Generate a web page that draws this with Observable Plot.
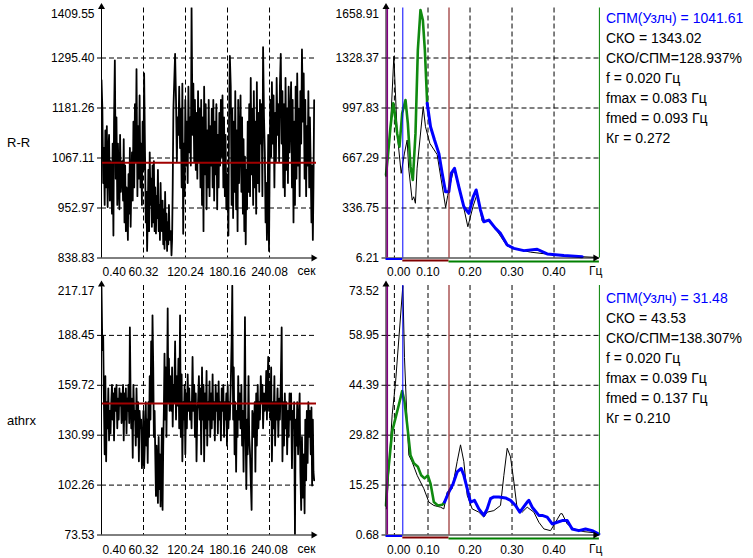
<!DOCTYPE html>
<html>
<head>
<meta charset="utf-8">
<script src="https://cdn.jsdelivr.net/npm/d3@7"></script>
<script src="https://cdn.jsdelivr.net/npm/@observablehq/plot@0.6"></script>
<style>
  body { margin: 0; background: #fff; }
  #chart { position: relative; width: 753px; height: 558px; overflow: hidden; background: #fff;
           font-family: "Liberation Sans", Arial, sans-serif; }
  #chart svg { position: absolute; }
  .stats { position: absolute; left: 606px; font-size: 14px; line-height: 20px; white-space: nowrap; color: #000; }
  .stats .head { color: #0000ff; }
  .rowlabel { position: absolute; left: 7px; font-size: 13px; line-height: 16px; color: #000; }
</style>
</head>
<body>
<div id="chart"></div>
<script>
// ---- time axis (seconds) ----
const timeStart = 0.40;
const timeEnd = 307.1;
const timeTicks = [0.40, 60.32, 120.24, 180.16, 240.08];

// ---- R-R intervals, ms ----
const rrTicks = [838.83, 952.97, 1067.11, 1181.26, 1295.40, 1409.55];
const rrMean = 1056;
const rrValues = [
  1245,1180,1010,1090,960,1130,1000,1140,955,1080,1120,970,1060,1010,
  940,1100,890,1150,1290,1020,1160,960,1100,1010,950,1120,990,1040,
  1060,970,1110,920,1050,900,1000,960,880,1030,940,1090,910,1000,
  1080,970,1150,1000,1190,1060,1270,980,1140,1020,1210,1000,1100,960,
  1150,1040,1260,1080,920,990,855,930,1040,900,1080,960,1020,910,
  1050,920,1060,900,1000,895,980,930,1040,900,960,880,1010,920,
  900,970,870,950,860,990,880,940,855,920,870,960,880,900,
  900,845,880,1000,1180,1240,1305,1200,1060,1160,1120,1230,1090,
  1180,1000,1237,894,1100,980,1200,1050,1150,1010,1230,1080,1160,
  1050,1410,1120,1237,1060,1200,1040,1170,1020,1220,1060,1180,1000,
  1200,960,1160,900,1230,1030,1190,950,1130,1000,1200,980,1140,
  1050,1180,1000,1200,970,1150,1030,1190,950,1120,1000,1170,1050,
  1200,1070,1210,1000,1160,980,1120,950,1030,1000,890,1150,1300,
  1230,960,1180,930,1150,990,1220,950,1130,900,1200,1010,1100,
  1210,990,1160,940,1110,900,1070,870,1040,950,1150,990,1190,
  980,1250,1030,1180,960,1220,1000,1150,940,1240,1010,1170,990,
  1200,1100,1190,980,1320,1160,1080,920,1010,880,950,1120,855,
  1030,1200,1070,1240,1100,1210,1000,1170,1060,1250,1120,1190,1060,
  1230,1305,1100,1220,1000,1190,980,1250,1040,1180,1010,1230,1080,
  1160,1240,1000,1200,920,1150,960,1230,1020,1260,1050,1180,980,
  1220,1100,1315,1150,1260,1020,1200,980,1140,1050,1220,1000,1160,
  1040,920,1050,880,1000,1199
];

// ---- athrx, one value per beat ----
const athrxTicks = [73.53, 102.26, 130.99, 159.72, 188.45, 217.17];
const athrxMean = 149.2;
const athrxValues = [
  216,180,188,150,120,165,116,150,135,158,128,145,132,150,
  160,140,155,128,158,145,160,135,152,140,158,148,155,138,
  150,160,128,155,140,158,132,152,145,160,138,193,150,135,
  152,118,160,140,145,125,158,130,150,116,145,135,140,112,
  120,145,112,130,150,125,140,115,150,130,165,140,185,150,
  200,170,130,145,120,96,125,110,92,130,100,120,90,115,
  135,88,125,145,178,140,170,130,160,204,150,175,145,165,
  160,145,170,136,160,150,185,140,165,148,175,135,200,
  130,166,116,150,140,160,120,155,135,166,145,158,140,
  150,135,176,145,160,130,155,116,145,150,165,140,158,
  120,170,140,160,116,155,135,168,125,150,140,162,130,
  155,135,166,140,150,128,160,145,155,132,162,140,150,
  128,158,145,160,130,150,140,155,125,160,135,150,140,
  160,185,217,140,170,120,150,110,145,130,165,140,155,
  135,160,125,145,110,150,199,130,100,140,120,165,130,
  120,105,88,145,140,130,150,110,155,125,160,135,150,
  140,165,150,160,135,155,145,150,168,140,160,176,145,
  160,140,170,116,150,135,165,125,150,140,158,130,152,
  140,160,193,116,150,125,155,135,150,120,145,130,155,
  140,155,112,145,135,150,73.6,140,125,150,120,140,155,
  110,88,130,95,120,86,140,105,145,115,150,130,145,
  120,147,102,140,110,105
];

// ---- spectra: [frequency Hz, power] ----
const freqEnd = 0.508;
const freqTicks = [0, 0.1, 0.2, 0.3, 0.4];
const fMarker = 0.02;
const bandEdges = [0.003, 0.04, 0.15, 0.508];
const bandColors = ["#800080", "#0000ff", "#800000", "#008000"];

const rrSpecTicks = [6.21, 336.75, 667.29, 997.83, 1328.37, 1658.91];
const rrSpecRaw = [
  [0.0,544],[0.0107,870],[0.0187,1340],[0.0266,830],[0.0361,566],[0.044,700],[0.0504,786],
  [0.054,600],[0.0623,389],[0.066,411],[0.070,368],[0.074,600],[0.0885,1007],[0.094,874],
  [0.1044,764],[0.1218,690],[0.142,340],[0.147,420],[0.1615,600],[0.1734,490],[0.1948,213],
  [0.2075,350],[0.2171,430],[0.229,250],[0.2448,250],[0.2607,200],[0.2726,150],[0.2885,85],
  [0.31,65],[0.344,45],[0.3837,32],[0.4234,20],[0.5028,10]
];
const rrSpecLow = [
  [0.0,555],[0.0044,676],[0.0107,874],[0.0171,1029],[0.021,963],[0.0266,830],[0.0321,742],
  [0.0385,963],[0.0464,1051],[0.052,896],[0.0583,610],[0.0639,522],[0.0702,830],[0.0758,1381],
  [0.0821,1646],[0.0877,1580],[0.0925,1381],[0.098,1029]
];
const rrSpecHigh = [
  [0.098,1029],[0.106,874],[0.1155,786],[0.1258,698],[0.1337,566],[0.1417,444],[0.1496,444],
  [0.1552,566],[0.1631,599],[0.1734,477],[0.1853,345],[0.1972,301],[0.2075,411],[0.2147,456],
  [0.225,323],[0.2329,246],[0.2448,257],[0.2607,202],[0.2726,169],[0.2885,92],[0.3044,70],
  [0.3282,55],[0.3599,64],[0.3837,33],[0.4234,22],[0.4671,15]
];

const athrxSpecTicks = [0.68, 15.25, 29.82, 44.39, 58.95, 73.52];
const athrxSpecRaw = [
  [0.001,8.3],[0.0147,35.8],[0.0226,45],[0.0401,73.5],[0.044,52.5],[0.0504,33],[0.0544,24],
  [0.0623,22],[0.0742,18.1],[0.0901,14.2],[0.102,10.3],[0.1139,9.3],[0.1298,8.8],[0.1377,8.3],
  [0.1456,13.2],[0.1575,14.2],[0.1694,22.1],[0.1774,27.0],[0.1853,22.1],[0.1933,12.3],[0.2052,8.3],
  [0.221,7.35],[0.2329,5.9],[0.2409,7.35],[0.2567,7.8],[0.2726,9.3],[0.2806,18.1],[0.2885,26.0],
  [0.2964,23.5],[0.3044,16.2],[0.3123,8.3],[0.3242,7.35],[0.3361,8.8],[0.352,7.35],[0.3639,4.4],
  [0.3758,2.45],[0.3917,1.95],[0.4036,4.4],[0.4155,6.9],[0.4194,6.9],[0.4313,3.9],[0.4472,2.45],
  [0.471,1.66],[0.5028,1.27]
];
const athrxSpecLow = [
  [0.0,9.3],[0.0044,18.1],[0.0147,30.9],[0.0226,34.8],[0.0306,38.7],[0.0385,42.7],[0.044,39.7],
  [0.0504,32.9],[0.0583,24.0],[0.0663,21.6],[0.0758,20.6],[0.0837,18.1],[0.0917,17.2],[0.0996,18.1],
  [0.106,15.7],[0.1139,10.3],[0.1234,9.3],[0.1337,9.5],[0.1393,10.3]
];
const athrxSpecHigh = [
  [0.1393,10.3],[0.1496,13.2],[0.1599,15.7],[0.1694,19.1],[0.179,20.1],[0.1853,18.1],[0.1933,14.2],
  [0.2012,10.3],[0.2107,10.8],[0.221,8.3],[0.2329,6.4],[0.2409,8.3],[0.2488,11.3],[0.2567,11.8],
  [0.2687,11.8],[0.2845,11.5],[0.2964,10.8],[0.3083,9.3],[0.3186,7.35],[0.3361,10.3],[0.3401,10.8],
  [0.348,8.8],[0.3639,6.4],[0.3718,6.4],[0.3837,5.9],[0.3956,3.9],[0.4075,4.4],[0.4194,4.9],
  [0.4313,4.9],[0.4432,2.45],[0.4591,1.95],[0.475,2.45],[0.4909,1.95],[0.5067,0.97]
];

// ---- summary text ----
const rrStats = ["СПМ(Узлч) = 1041.61", "СКО = 1343.02", "СКО/СПМ=128.937%", "f = 0.020 Гц",
                 "fmax = 0.083 Гц", "fmed = 0.093 Гц", "Кг = 0.272"];
const athrxStats = ["СПМ(Узлч) = 31.48", "СКО = 43.53", "СКО/СПМ=138.307%", "f = 0.020 Гц",
                    "fmax = 0.039 Гц", "fmed = 0.137 Гц", "Кг = 0.210"];
const rowLabels = ["R-R", "athrx"];

// beat times: each beat starts where the previous interval ends
const beatTimes = [];
rrValues.forEach((rr, i) => beatTimes.push(i === 0 ? timeStart : beatTimes[i - 1] + rrValues[i - 1] / 1000));

const chart = document.getElementById("chart");
const baseStyle = { background: "transparent", overflow: "visible",
                    fontFamily: "'Liberation Sans', Arial, sans-serif", fontSize: "12px", color: "#000" };
const dashed = { stroke: "#000", strokeWidth: 1, strokeDasharray: "5,3" };
const fmt2 = d => d.toFixed(2);

function place(svg, left, top) {
  svg.style.left = left + "px";
  svg.style.top = top + "px";
  chart.appendChild(svg);
}

function timePanel(values, yTicks, meanValue, marginTop, marginBottom, labelPad) {
  const rows = values.map((v, i) => ({ t: beatTimes[i], v }));
  const y0 = yTicks[0], y1 = yTicks[yTicks.length - 1];
  return Plot.plot({
    width: 340, height: 279,
    marginLeft: 101, marginRight: 24, marginTop, marginBottom,
    style: baseStyle,
    x: { domain: [timeStart, timeEnd] },
    y: { domain: [y0, y1] },
    marks: [
      Plot.ruleY(yTicks.slice(1, -1), dashed),
      Plot.ruleX(timeTicks.slice(1), dashed),
      Plot.line(rows, { x: "t", y: "v", stroke: "#000", strokeWidth: 1.8, clip: true }),
      Plot.ruleY([meanValue], { stroke: "#a00000", strokeWidth: 2 }),
      Plot.ruleX([timeStart], { stroke: "#000" }),
      Plot.ruleY([y0], { stroke: "#000" }),
      Plot.dot([[timeStart, y1]], { x: d => d[0], y: d => d[1], symbol: "triangle", r: 2.6, fill: "#000", dy: -1 }),
      Plot.dot([[timeEnd, y0]], { x: d => d[0], y: d => d[1], symbol: "triangle", r: 2.6, fill: "#000", rotate: 90, dx: -3 }),
      Plot.axisY(yTicks.slice(0, -1), { tickSize: 4, tickPadding: 3, tickFormat: fmt2, label: null }),
      Plot.axisY([y1], { tickSize: 0, tickPadding: 7, dy: 6, tickFormat: fmt2, label: null }),
      Plot.axisX([timeStart], { tickSize: 0, tickPadding: labelPad, textAnchor: "start", dx: 1, tickFormat: fmt2, label: null }),
      Plot.axisX(timeTicks.slice(1), { tickSize: 0, tickPadding: labelPad, tickFormat: fmt2, label: null }),
      Plot.text(["сек"], { x: timeEnd, y: y0, textAnchor: "end", dx: -1, dy: labelPad + 4.5, fontSize: 12 })
    ]
  });
}

function spectrumPanel(raw, low, high, yTicks, marginTop, marginBottom, labelPad) {
  const y0 = yTicks[0], y1 = yTicks[yTicks.length - 1];
  const bands = [
    { a: 0, b: bandEdges[1], color: bandColors[1], dy: 1 },
    { a: bandEdges[1], b: bandEdges[2], color: bandColors[2], dy: 2.5 },
    { a: bandEdges[2], b: bandEdges[3], color: bandColors[3], dy: 3.5 }
  ];
  return Plot.plot({
    width: 265, height: 279,
    marginLeft: 45.5, marginRight: 6.1, marginTop, marginBottom,
    style: baseStyle,
    x: { domain: [0, freqEnd] },
    y: { domain: [y0, y1] },
    marks: [
      Plot.ruleY(yTicks.slice(1, -1), dashed),
      Plot.ruleX([fMarker, ...freqTicks.slice(1)], dashed),
      Plot.line(raw, { x: d => d[0], y: d => d[1], stroke: "#000", strokeWidth: 1 }),
      Plot.line(low, { x: d => d[0], y: d => d[1], stroke: "#108a10", strokeWidth: 2.6 }),
      Plot.line(high, { x: d => d[0], y: d => d[1], stroke: "#0000ff", strokeWidth: 3 }),
      Plot.ruleX([0], { stroke: "#000" }),
      Plot.ruleY([y0], { stroke: "#000" }),
      ...bandEdges.map((f, i) => Plot.ruleX([f], { stroke: bandColors[i], strokeWidth: i === 0 ? 1.6 : 1 })),
      ...bands.map(b => Plot.ruleY([b], { y: () => y0, x1: "a", x2: "b", stroke: b.color, strokeWidth: 2, dy: b.dy })),
      Plot.dot([[0, y1]], { x: d => d[0], y: d => d[1], symbol: "triangle", r: 2.6, fill: "#000", dy: -1 }),
      Plot.dot([[freqEnd, y0]], { x: d => d[0], y: d => d[1], symbol: "triangle", r: 2.6, fill: "#000", rotate: 90, dx: -4 }),
      Plot.axisY(yTicks.slice(0, -1), { tickSize: 4, tickPadding: 3, tickFormat: fmt2, label: null }),
      Plot.axisY([y1], { tickSize: 0, tickPadding: 7, dy: 6, tickFormat: fmt2, label: null }),
      Plot.axisX([0], { tickSize: 0, tickPadding: labelPad, textAnchor: "start", dx: 1, tickFormat: fmt2, label: null }),
      Plot.axisX(freqTicks.slice(1), { tickSize: 0, tickPadding: labelPad, tickFormat: fmt2, label: null }),
      Plot.text(["Гц"], { x: freqEnd, y: y0, textAnchor: "end", dx: 3, dy: labelPad + 4.5, fontSize: 12 })
    ]
  });
}

place(timePanel(rrValues, rrTicks, rrMean, 7.5, 21.5, 9), 0, 0);
place(spectrumPanel(rrSpecRaw, rrSpecLow, rrSpecHigh, rrSpecTicks, 7.5, 21.5, 9), 340, 0);
place(timePanel(athrxValues, athrxTicks, athrxMean, 6, 23.5, 10), 0, 279);
place(spectrumPanel(athrxSpecRaw, athrxSpecLow, athrxSpecHigh, athrxSpecTicks, 6, 23.5, 10), 340, 279);

function statsBlock(lines, top) {
  const div = document.createElement("div");
  div.className = "stats";
  div.style.top = top + "px";
  lines.forEach((t, i) => {
    const line = document.createElement("div");
    if (i === 0) line.className = "head";
    line.textContent = t;
    div.appendChild(line);
  });
  chart.appendChild(div);
}
statsBlock(rrStats, 8.3);
statsBlock(athrxStats, 288.3);

[[rowLabels[0], 135], [rowLabels[1], 413]].forEach(([t, top]) => {
  const div = document.createElement("div");
  div.className = "rowlabel";
  div.style.top = top + "px";
  div.textContent = t;
  chart.appendChild(div);
});
</script>
</body>
</html>
